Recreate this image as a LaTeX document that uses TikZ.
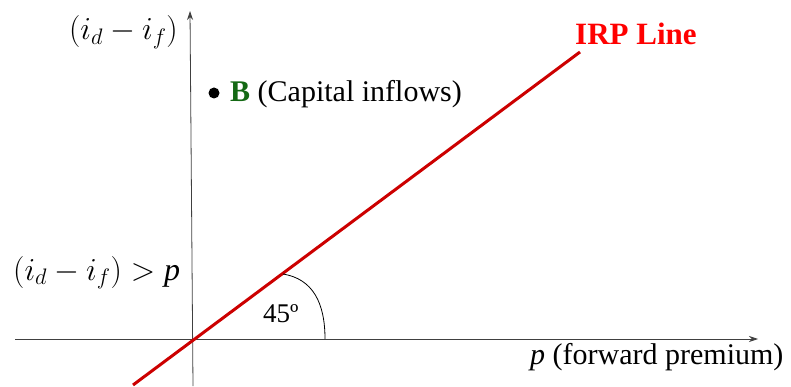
\documentclass[tikz,border=0pt]{standalone}
\usepackage{fix-cm}
\usepackage{amsmath}
\usepackage{fontspec}
\setmainfont{Liberation Serif}
\usetikzlibrary{arrows.meta, positioning}

\definecolor{irpline}{RGB}{204,0,0}
\definecolor{irptext}{RGB}{255,0,0}
\definecolor{bgreen}{RGB}{20,105,20}

\begin{document}
\begin{tikzpicture}[
    x=1pt, y=-1pt,
    axis/.style={-{Stealth[length=9pt, width=6pt]}, draw=black!75, line width=0.8pt},
    irp/.style={draw=irpline, line width=3pt},
    txt/.style={font=\fontsize{30}{34}\selectfont, inner sep=0pt},
    mth/.style={font=\fontsize{32}{36}\selectfont, inner sep=0pt}
]
\useasboundingbox (0,0) rectangle (791,387);

% axes
\coordinate (xl) at (15,339);
\coordinate (xr) at (758,339);
\coordinate (yb) at (193,386);
\coordinate (yt) at (190,11);
\draw[axis] (xl) -- (xr);
\draw[axis] (yb) -- (yt);

% IRP line and angle mark
\coordinate (ra) at (133,385);
\coordinate (rb) at (580,52);
\draw[irp] (ra) -- (rb);
\coordinate (a1) at (283,274);
\coordinate (a2) at (325,339);
\draw[line width=0.8pt] (a1) .. controls (313,279) and (325,303) .. (a2);

% labels
\node[mth, anchor=base east] (ylab) at (178,40) {$(i_d - i_f)$};
\node[mth, anchor=base west] (cond) at (13,280) {$(i_d - i_f) > \textit{p}$};
\node[txt, anchor=base west, text=irptext, font=\fontsize{31}{34}\selectfont\bfseries] (irplab) at (575,45) {IRP Line};
\node[txt, anchor=base west, font=\fontsize{27}{32}\selectfont] (ang) at (263,322) {45º};
\node[txt, anchor=base west] (xlab) at (530,364) {\textit{p} (forward premium)};

% point B
\fill (214,93) circle (5.5);
\node[txt, anchor=base west] (B) at (230,102) {\textcolor{bgreen}{\textbf{B}} (Capital inflows)};
\end{tikzpicture}
\end{document}
